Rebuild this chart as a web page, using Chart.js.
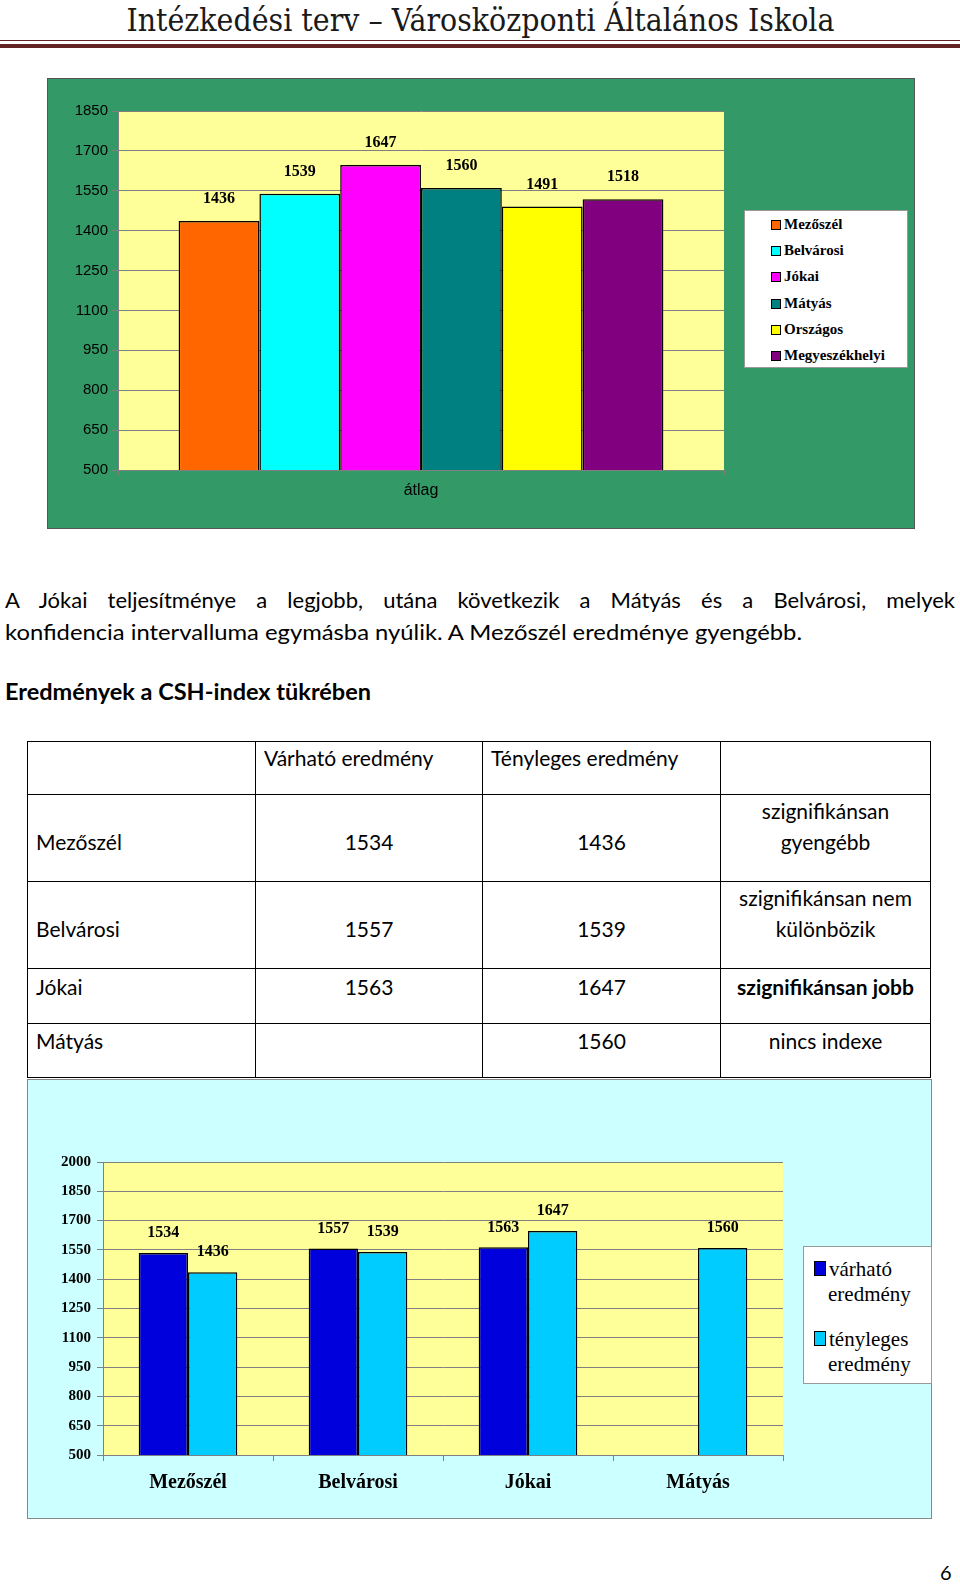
<!DOCTYPE html>
<html>
<head>
<meta charset="utf-8">
<script src="https://cdn.jsdelivr.net/npm/chart.js@4.4.0/dist/chart.umd.min.js"></script>
<style>
  body { margin: 0; width: 960px; height: 1584px; position: relative; background: #fff; font-family: Lato, "Open Sans", sans-serif; color: #000; }
  .abs { position: absolute; }
  #header { left: 0; width: 960px; top: 2px; text-align: center; font-family: "DejaVu Serif Condensed", "DejaVu Serif", serif; font-stretch: condensed; font-size: 31px; color: #1a1a1a; white-space: nowrap; }
  #header span { display: inline-block; transform-origin: center; }
  .rule1 { left: 0; width: 960px; top: 40px; height: 1px; background: #622423; }
  .rule2 { left: 0; width: 960px; top: 44px; height: 4px; background: #622423; }
  #panel1 { left: 47px; top: 78px; width: 866px; height: 449px; background: #339966; border: 1px solid #555; }
  #panel2 { left: 27px; top: 1079px; width: 903px; height: 438px; background: #ccffff; border: 1px solid #888; }
  canvas { position: absolute; }
  .legend { background: #fff; border: 1px solid #999; font-family: "Liberation Serif", serif; }
  #legend1 { left: 744px; top: 210px; width: 162px; height: 156px; }
  #legend1 div { position: absolute; left: 26px; height: 26px; line-height: 26px; font-weight: bold; font-size: 15px; white-space: nowrap; }
  #legend1 i, #legend2 i { display: inline-block; width: 8px; height: 8px; border: 1px solid #000; margin-right: 3px; vertical-align: -1px; }
  #legend2 { left: 803px; top: 1246px; width: 127px; height: 136px; }
  #legend2 div { position: absolute; left: 10px; font-size: 21px; line-height: 25px; white-space: nowrap; }
  #legend2 i { width: 10px; height: 13px; margin-right: 3px; vertical-align: 0; }
  .para { left: 5px; width: 950px; font-size: 22px; white-space: nowrap; }
  #line1 { top: 586px; text-align: justify; text-align-last: justify; white-space: normal; }
  #line2 { top: 618px; }
  #heading { left: 5px; top: 678px; font-size: 22px; font-weight: bold; }
  table { position: absolute; left: 27px; top: 741px; border-collapse: collapse; font-size: 21px; }
  td { border: 1px solid #000; padding: 0 8px 21px 8px; vertical-align: bottom; line-height: 31px; }
  tr.tall td { padding-bottom: 24px; }
  td.c { text-align: center; }
  #pagenum { left: 940px; top: 1560px; font-size: 20px; }
</style>
</head>
<body>
<div id="header" class="abs"><span>Intézkedési terv – Városközponti Általános Iskola</span></div>
<div class="abs rule1"></div>
<div class="abs rule2"></div>

<div id="panel1" class="abs"></div>
<canvas id="chart1" width="868" height="451" style="left:47px;top:78px;"></canvas>
<div id="legend1" class="abs legend"></div>

<div id="line1" class="abs para">A Jókai teljesítménye a legjobb, utána következik a Mátyás és a Belvárosi, melyek</div>
<div id="line2" class="abs para"><span>konfidencia intervalluma egymásba nyúlik. A Mezőszél eredménye gyengébb.</span></div>
<div id="heading" class="abs"><span>Eredmények a CSH-index tükrében</span></div>

<table>
  <tr style="height:53px"><td style="width:211px"></td><td style="width:210px">Várható eredmény</td><td style="width:221px">Tényleges eredmény</td><td style="width:193px"></td></tr>
  <tr class="tall" style="height:87px"><td>Mezőszél</td><td class="c">1534</td><td class="c">1436</td><td class="c">szignifikánsan<br>gyengébb</td></tr>
  <tr class="tall" style="height:87px"><td>Belvárosi</td><td class="c">1557</td><td class="c">1539</td><td class="c">szignifikánsan nem<br>különbözik</td></tr>
  <tr style="height:55px"><td>Jókai</td><td class="c">1563</td><td class="c">1647</td><td class="c"><b>szignifikánsan jobb</b></td></tr>
  <tr style="height:54px"><td>Mátyás</td><td class="c"></td><td class="c">1560</td><td class="c">nincs indexe</td></tr>
</table>

<div id="panel2" class="abs"></div>
<canvas id="chart2" width="905" height="440" style="left:27px;top:1079px;"></canvas>
<div id="legend2" class="abs legend"></div>

<div id="pagenum" class="abs">6</div>

<script>
// chart 1: averages per school
const schools = ['Mezőszél', 'Belvárosi', 'Jókai', 'Mátyás', 'Országos', 'Megyeszékhelyi']
const averages = [1436, 1539, 1647, 1560, 1491, 1518]
const schoolColors = ['#ff6600', '#00ffff', '#ff00ff', '#008080', '#ffff00', '#800080']
const chart1Category = ['átlag']

// chart 2: expected vs actual (CSH-index)
const indexSchools = ['Mezőszél', 'Belvárosi', 'Jókai', 'Mátyás']
const expected = [1534, 1557, 1563, null]
const actual = [1436, 1539, 1647, 1560]
const seriesNames = [['várható', 'eredmény'], ['tényleges', 'eredmény']]
const seriesColors = ['#0000dd', '#00ccff']

Chart.defaults.animation = false

function fitWidth(el, w) {
    const cur = el.getBoundingClientRect().width
    el.style.display = 'inline-block'
    el.style.transformOrigin = 'left top'
    el.style.transform = 'scaleX(' + (w / cur) + ')'
}

// plot background
const plotBg = {
    id: 'plotBg',
    beforeDraw(chart, args, opts) {
        const { ctx, chartArea: a } = chart
        ctx.save()
        ctx.fillStyle = opts.color
        ctx.fillRect(a.left, a.top, a.right - a.left, a.bottom - a.top)
        ctx.restore()
    }
}

// value labels above bars
const barLabels = {
    id: 'barLabels',
    afterDatasetsDraw(chart, args, opts) {
        const ctx = chart.ctx
        ctx.save()
        ctx.font = opts.font
        ctx.fillStyle = '#000'
        ctx.textAlign = 'center'
        ctx.textBaseline = 'bottom'
        chart.data.datasets.forEach((ds, i) => {
            chart.getDatasetMeta(i).data.forEach((bar, j) => {
                const v = ds.data[j]
                if (v == null) return
                ctx.fillText(String(v), bar.x, bar.y - opts.offset)
            })
        })
        ctx.restore()
    }
}

const plainTick = v => String(v)

// Chart 1
const chart1 = new Chart(document.getElementById('chart1'), {
    type: 'bar',
    data: {
        labels: chart1Category,
        datasets: schools.map((s, i) => ({
            label: s,
            data: [averages[i]],
            backgroundColor: schoolColors[i],
            borderColor: '#000',
            borderWidth: 1.5,
            borderSkipped: false,
            categoryPercentage: 0.8,
            barPercentage: 1
        }))
    },
    options: {
        responsive: false,
        layout: { padding: { left: 0, top: 33, right: 191, bottom: 0 } },
        scales: {
            y: {
                min: 500, max: 1850,
                afterFit(scale) { scale.width = 71 },
                ticks: { stepSize: 150, callback: plainTick, color: '#000', font: { family: 'Liberation Sans', size: 15 }, padding: 4 },
                grid: { color: '#808080', tickLength: 6 },
                border: { color: '#808080' }
            },
            x: {
                afterFit(scale) { scale.height = 59 },
                ticks: { color: '#000', font: { family: 'Liberation Sans', size: 16 }, padding: 6 },
                grid: { drawOnChartArea: false, color: '#808080', tickLength: 5, offset: true },
                border: { color: '#808080' }
            }
        },
        plugins: {
            legend: { display: false },
            tooltip: { enabled: false },
            plotBg: { color: '#ffff99' },
            barLabels: { font: 'bold 16px "Liberation Serif"', offset: 14 }
        }
    },
    plugins: [plotBg, barLabels]
})

// legend 1
const leg1 = document.getElementById('legend1')
schools.forEach((s, i) => {
    const d = document.createElement('div')
    d.style.top = (i * 26.2) + 'px'
    d.innerHTML = '<i style="background:' + schoolColors[i] + '"></i>' + s
    leg1.appendChild(d)
})

// Chart 2
const chart2 = new Chart(document.getElementById('chart2'), {
    type: 'bar',
    data: {
        labels: indexSchools,
        datasets: [expected, actual].map((vals, i) => ({
            label: seriesNames[i].join(' '),
            data: vals,
            backgroundColor: seriesColors[i],
            borderColor: '#000',
            borderWidth: 1.5,
            borderSkipped: false,
            categoryPercentage: 0.58,
            barPercentage: 1
        }))
    },
    options: {
        responsive: false,
        layout: { padding: { left: 0, top: 83, right: 149, bottom: 0 } },
        scales: {
            y: {
                min: 500, max: 2000,
                afterFit(scale) { scale.width = 76 },
                ticks: { stepSize: 150, callback: plainTick, color: '#000', font: { family: 'Liberation Serif', size: 15, weight: 'bold' }, padding: 6 },
                grid: { color: '#808080', tickLength: 6 },
                border: { color: '#808080' }
            },
            x: {
                afterFit(scale) { scale.height = 64 },
                ticks: { color: '#000', font: { family: 'Liberation Serif', size: 20, weight: 'bold' }, padding: 10 },
                grid: { drawOnChartArea: false, color: '#808080', tickLength: 6, offset: true },
                border: { color: '#808080' }
            }
        },
        plugins: {
            legend: { display: false },
            tooltip: { enabled: false },
            plotBg: { color: '#ffff99' },
            barLabels: { font: 'bold 16px "Liberation Serif"', offset: 12 }
        }
    },
    plugins: [plotBg, barLabels]
})

// legend 2
const leg2 = document.getElementById('legend2')
seriesNames.forEach((n, i) => {
    const d = document.createElement('div')
    d.style.top = (10 + i * 70) + 'px'
    d.innerHTML = '<i style="background:' + seriesColors[i] + '"></i>' + n[0] + '<br><span style="padding-left:14px">' + n[1] + '</span>'
    leg2.appendChild(d)
})

fitWidth(document.querySelector('#header span'), 708)
document.querySelector('#header span').style.transformOrigin = 'center top'
fitWidth(document.querySelector('#line2 span'), 797)
fitWidth(document.querySelector('#heading span'), 366)
</script>
</body>
</html>
